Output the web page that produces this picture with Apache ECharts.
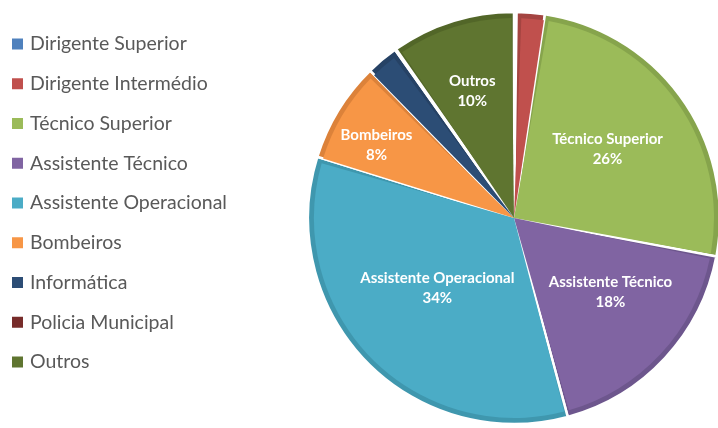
<!DOCTYPE html>
<html>
<head>
<meta charset="utf-8">
<script src="https://cdn.jsdelivr.net/npm/echarts@6/dist/echarts.min.js"></script>
<style>
	* { margin: 0; padding: 0; }
	body { background: #fff; }
	#chart { width: 718px; height: 428px; }
</style>
</head>
<body>
<div id="chart"></div>
<script>
	// categorias e percentagens
	var categories = ['Dirigente Superior', 'Dirigente Intermédio', 'Técnico Superior', 'Assistente Técnico',
		'Assistente Operacional', 'Bombeiros', 'Informática', 'Policia Municipal', 'Outros'];
	var shares = [0.2, 2.2, 25.6, 17.8, 34.0, 7.9, 2.5, 0.1, 9.7];

	var mainColors = ['#4F81BD', '#C0504D', '#9BBB59', '#8064A2', '#4BACC6', '#F79646', '#2C4D75', '#772C2A', '#5F7530'];
	var edgeColors = ['#43709f', '#a44441', '#86a44c', '#6d568d', '#3f97ae', '#dc823a', '#264265', '#672523', '#526628'];

	// pequenos ajustes da posição dos rótulos (como no Excel)
	var labelNudge = {
		'Técnico Superior': [9, -10],
		'Assistente Técnico': [21, 4],
		'Assistente Operacional': [-3, -2],
		'Bombeiros': [-49, -20],
		'Outros': [-11, -29]
	};

	var center = [514, 218];

	var topData = categories.map(function(name, i) {
		var item = {
			name: name,
			value: shares[i],
			itemStyle: { color: mainColors[i] }
		};
		if (labelNudge[name]) {
			item.label = { show: true, offset: labelNudge[name] };
		}
		return item;
	});
	var edgeData = categories.map(function(name, i) {
		return { name: name, value: shares[i], itemStyle: { color: edgeColors[i] } };
	});

	var chart = echarts.init(document.getElementById('chart'));
	chart.setOption({
		animation: false,
		legend: {
			orient: 'vertical',
			left: 12,
			top: 34,
			padding: 0,
			icon: 'rect',
			itemWidth: 11,
			itemHeight: 11,
			itemGap: 19.75,
			textStyle: {
				fontFamily: 'Lato',
				fontSize: 19.5,
				lineHeight: 20,
				color: '#595959',
				padding: [0, 0, 0, 2]
			},
			data: categories
		},
		series: [{
			type: 'pie',
			z: 3,
			center: center,
			radius: [0, 200],
			padAngle: 1.4,
			silent: true,
			label: {
				show: false,
				position: 'inside',
				color: '#fff',
				fontFamily: 'Lato',
				fontWeight: 'bold',
				fontSize: 15,
				lineHeight: 20,
				formatter: function(p) {
					return p.name + '\n' + Math.round(p.percent) + '%';
				}
			},
			labelLine: { show: false },
			data: topData
		}, {
			type: 'pie',
			z: 2,
			center: center,
			radius: [0, 206],
			silent: true,
			label: { show: false },
			labelLine: { show: false },
			itemStyle: { borderColor: '#fff', borderWidth: 2.5 },
			data: edgeData
		}]
	});
</script>
</body>
</html>
